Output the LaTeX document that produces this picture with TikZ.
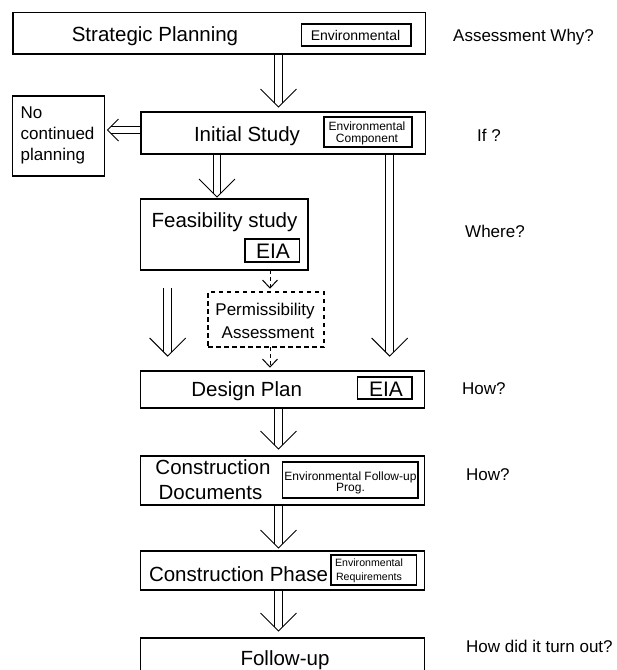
\documentclass[tikz,border=0pt]{standalone}
\usepackage{fontspec}
\setmainfont{Liberation Sans}
\usetikzlibrary{calc}
\newcommand\dbldown[2]{%
  \draw[arrline] ($(#1)+(-3.75,0)$) -- ($(#2)+(-3.75,-3.75)$);
  \draw[arrline] ($(#1)+(3.75,0)$) -- ($(#2)+(3.75,-3.75)$);
  \draw[arrline] ($(#2)+(-18,-18)$) -- (#2) -- ($(#2)+(18,-18)$);}
\newcommand\dashdown[2]{%
  \draw[dashline] (#1) -- (#2);
  \draw[arrline] ($(#2)+(-7.5,-8)$) -- (#2) -- ($(#2)+(7.5,-8)$);}
\begin{document}
\begin{tikzpicture}[x=1pt,y=-1pt,
  box/.style={draw, line width=1.4pt, inner sep=0pt, outer sep=0pt, anchor=north west},
  dbox/.style={box, line width=1.3pt, dash pattern=on 4.5pt off 3.5pt},
  arrline/.style={line width=1pt},
  dashline/.style={line width=1pt, dash pattern=on 4pt off 3pt},
  main/.style={font=\fontsize{20.5}{24}\selectfont, inner sep=0pt, anchor=base},
  mainw/.style={main, anchor=base west},
  mid/.style={font=\fontsize{17}{20}\selectfont, inner sep=0pt, anchor=base},
  side/.style={font=\fontsize{17}{20}\selectfont, inner sep=0pt, anchor=base west},
  eia/.style={font=\fontsize{21}{24}\selectfont, inner sep=0pt, anchor=base},
  envA/.style={font=\fontsize{14}{16}\selectfont, inner sep=0pt, anchor=base},
  envB/.style={font=\fontsize{12}{14}\selectfont, inner sep=0pt, anchor=base},
  envC/.style={font=\fontsize{10.6}{12}\selectfont, inner sep=0pt, anchor=base}]
\useasboundingbox (0,0) rectangle (617,670);
\fill[white] (0,0) rectangle (617,670);
\clip (0,0) rectangle (617,670);

% boxes
\node[box, minimum width=412.7pt, minimum height=41.3pt] (sp) at (13,12.7) {};
\node[box, minimum width=109.5pt, minimum height=22pt] (spe) at (301.5,24) {};
\node[box, minimum width=284.7pt, minimum height=42pt] (is) at (141,112) {};
\node[box, minimum width=88pt, minimum height=30pt] (ise) at (324,117) {};
\node[box, minimum width=91.9pt, minimum height=80pt] (nc) at (12.6,96) {};
\node[box, minimum width=167.1pt, minimum height=71pt] (fs) at (140.7,199) {};
\node[box, minimum width=54.6pt, minimum height=23pt] (fse) at (245,239) {};
\node[dbox, minimum width=116pt, minimum height=55pt] (pa) at (208,292) {};
\node[box, minimum width=283.8pt, minimum height=37pt] (dp) at (140.7,371) {};
\node[box, minimum width=54.5pt, minimum height=22pt] (dpe) at (357.5,377) {};
\node[box, minimum width=283.8pt, minimum height=49pt] (cd) at (140.7,456) {};
\node[box, minimum width=135.2pt, minimum height=36pt] (cde) at (282.6,462) {};
\node[box, minimum width=283.8pt, minimum height=39pt] (cp) at (140.7,551) {};
\node[box, minimum width=85.6pt, minimum height=30pt] (cpe) at (331,555) {};
\node[box, minimum width=283.8pt, minimum height=45pt] (fu) at (140.7,638) {};

% texts in boxes
\node[main] (tsp) at (155,41.5) {Strategic Planning};
\node[envA] (tspe) at (355.5,40) {Environmental};
\node[main] (tis) at (247,141) {Initial Study};
\node[envB] (tise1) at (367,130) {Environmental};
\node[envB] (tise2) at (367,142) {Component};
\node[mid, anchor=base west] (tnc1) at (20.5,118) {No};
\node[mid, anchor=base west] (tnc2) at (20.5,139) {continued};
\node[mid, anchor=base west] (tnc3) at (20.5,160) {planning};
\node[main] (tfs) at (224.5,227) {Feasibility study};
\node[eia] (tfse) at (273,258) {EIA};
\node[mid] (tpa1) at (265,315) {Permissibility};
\node[mid] (tpa2) at (268,338) {Assessment};
\node[main] (tdp) at (246.7,396.5) {Design Plan};
\node[eia] (tdpe) at (386,396.5) {EIA};
\node[main] (tcd1) at (213,474) {Construction};
\node[main] (tcd2) at (210.5,499) {Documents};
\node[envB] (tcde1) at (350.5,480) {Environmental Follow-up};
\node[envB] (tcde2) at (350.5,491.5) {Prog.};
\node[main] (tcp) at (238.5,581) {Construction Phase};
\node[envC] (tcpe1) at (369,566.5) {Environmental};
\node[envC] (tcpe2) at (369,580) {Requirements};
\node[main] (tfu) at (285,665) {Follow-up};

% side questions
\node[side] (q1) at (453,41) {Assessment Why?};
\node[side] (q2) at (477,141) {If ?};
\node[side] (q3) at (465,237) {Where?};
\node[side] (q4) at (462,394) {How?};
\node[side] (q5) at (466,480) {How?};
\node[side] (q6) at (466,652) {How did it turn out?};

% columns
\coordinate (c278) at (278.5,0);
\coordinate (c217) at (217,0);
\coordinate (c168) at (167.7,0);
\coordinate (c390) at (389.7,0);
\coordinate (c270) at (270,0);

% double arrows
\coordinate (a1s) at (sp.south -| c278);
\coordinate (a1t) at ($(is.north -| c278)+(0,-5)$);
\dbldown{a1s}{a1t}
\coordinate (a2s) at (is.south -| c217);
\coordinate (a2t) at ($(fs.north -| c217)+(0,-2)$);
\dbldown{a2s}{a2t}
\coordinate (a3s) at ($(fs.south -| c168)+(0,18)$);
\coordinate (a3t) at ($(dp.north -| c168)+(0,-15)$);
\dbldown{a3s}{a3t}
\coordinate (a4s) at (is.south -| c390);
\coordinate (a4t) at ($(dp.north -| c390)+(0,-15)$);
\dbldown{a4s}{a4t}
\coordinate (a5s) at (dp.south -| c278);
\coordinate (a5t) at ($(cd.north -| c278)+(0,-7)$);
\dbldown{a5s}{a5t}
\coordinate (a6s) at (cd.south -| c278);
\coordinate (a6t) at ($(cp.north -| c278)+(0,-3)$);
\dbldown{a6s}{a6t}
\coordinate (a7s) at (cp.south -| c278);
\coordinate (a7t) at ($(fu.north -| c278)+(0,-7)$);
\dbldown{a7s}{a7t}

% left arrow to "No continued planning"
\coordinate (l1s) at ($(is.west)+(0,-3)$);
\coordinate (l1t) at ($(nc.east |- l1s)+(3,0)$);
\draw[arrline] ($(l1s)+(0,-3.5)$) -- ($(l1t)+(3.5,-3.5)$);
\draw[arrline] ($(l1s)+(0,3.5)$) -- ($(l1t)+(3.5,3.5)$);
\draw[arrline] ($(l1t)+(11,-11)$) -- (l1t) -- ($(l1t)+(11,11)$);

% dashed arrows
\coordinate (d1s) at (fs.south -| c270);
\coordinate (d1t) at ($(pa.north -| c270)+(0,-4)$);
\dashdown{d1s}{d1t}
\coordinate (d2s) at (pa.south -| c270);
\coordinate (d2t) at ($(dp.north -| c270)+(0,-4)$);
\dashdown{d2s}{d2t}
\end{tikzpicture}
\end{document}
